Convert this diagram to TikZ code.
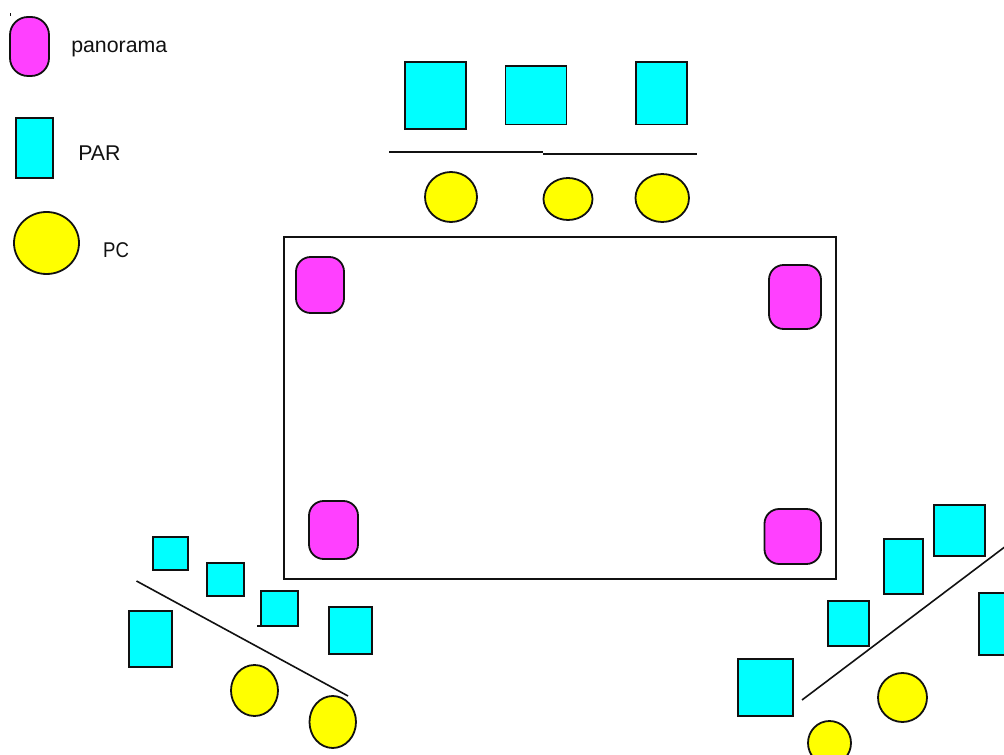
\documentclass[tikz,border=0pt]{standalone}
\usepackage{fontspec}
\setmainfont{Liberation Sans}
\definecolor{pano}{HTML}{FF40FF}
\definecolor{parc}{HTML}{00FFFF}
\definecolor{pcc}{HTML}{FFFF00}
\definecolor{ink}{HTML}{111111}
\tikzset{
  x=0.75pt,y=-0.75pt,
  shapebase/.style={draw=ink,line width=1.35pt,inner sep=0pt,outer sep=0pt},
  panobox/.style={shapebase,fill=pano,rectangle,rounded corners=11pt},
  parbox/.style={shapebase,fill=parc,rectangle},
  pcdisc/.style={shapebase,fill=pcc,ellipse},
  stage/.style={draw=ink,line width=1.5pt,fill=none,rectangle,inner sep=0pt,outer sep=0pt},
  rule/.style={draw=ink,line width=1.2pt},
  legendtext/.style={anchor=base west,inner sep=0pt,text=ink,font=\fontsize{16pt}{18pt}\selectfont},
}
\usetikzlibrary{shapes.geometric}
% \shp{style}{name}{x1}{y1}{x2}{y2}: a node given by its outer pixel extents
\newcommand{\shp}[6]{%
  \pgfmathsetmacro{\cxv}{(#3+#5)/2}%
  \pgfmathsetmacro{\cyv}{(#4+#6)/2}%
  \pgfmathsetmacro{\wdv}{(#5-#3)*0.75}%
  \pgfmathsetmacro{\htv}{(#6-#4)*0.75}%
  \node[#1,minimum width=\wdv pt,minimum height=\htv pt] (#2) at (\cxv,\cyv) {};%
}
\begin{document}
\begin{tikzpicture}
\useasboundingbox (0,0) rectangle (1004,755);
\clip (0,0) rectangle (1004,755);
% legend
\node[fill=ink,inner sep=0pt,minimum width=1pt,minimum height=2pt] (speck) at (10.5,14.5) {};
\shp{panobox,rounded corners=13.5pt}{legpano}{10}{17}{49}{76}
\shp{parbox}{legpar}{16}{118}{53}{178}
\shp{pcdisc}{legpc}{14}{212}{79}{274}
\node[legendtext] (legpanotext) at (71,53) {panorama};
\node[legendtext] (legpartext) at (78,161) {PAR};
\node[legendtext,xscale=0.87] (legpctext) at (103,257.5) {PC};
% main stage
\shp{stage}{stagebox}{284}{237}{836}{579}
\shp{panobox}{pa}{296}{257}{344}{313}
\shp{panobox}{pb}{769}{265}{821}{329}
\shp{panobox}{pc}{309}{501}{358}{559}
\shp{panobox}{pd}{764.5}{509}{821}{564}
% top group
\shp{parbox}{ta}{405}{62}{466}{129}
\shp{parbox}{tb}{505.5}{66}{566.5}{124.5}
\shp{parbox}{tc}{636}{62}{687}{124.5}
\coordinate (tl1) at (389,152);
\coordinate (tl2) at (543,152);
\coordinate (tl3) at (543,154.2);
\coordinate (tl4) at (697,154.2);
\draw[rule] (tl1) -- (tl2);
\draw[rule] (tl3) -- (tl4);
\shp{pcdisc}{td}{425}{172}{477}{222}
\shp{pcdisc}{te}{543.5}{178}{592.5}{220}
\shp{pcdisc}{tf}{635.5}{174}{689}{222}
% left group
\shp{parbox}{la}{153}{537}{188}{570}
\shp{parbox}{lb}{207}{563}{244}{596}
\shp{parbox}{lc}{261}{591}{298}{626}
\shp{parbox}{ld}{329}{607}{372}{654}
\shp{parbox}{le}{129}{611}{172}{667}
\coordinate (ls) at (257,626);
\draw[rule] (ls) -- (lc.south west);
\coordinate (ll1) at (136.5,581);
\coordinate (ll2) at (348,696);
\draw[rule] (ll1) -- (ll2);
\shp{pcdisc}{lf}{231}{665}{278}{716}
\shp{pcdisc}{lg}{309.5}{696}{356}{748}
% right group
\shp{parbox}{ra}{934}{505}{985}{556}
\shp{parbox}{rb}{884}{539}{923}{594}
\shp{parbox}{rc}{828}{601}{869}{646}
\shp{parbox}{rd}{738}{659}{793}{716}
\shp{parbox}{re}{979}{593}{1030}{655}
\coordinate (rl1) at (802,700);
\coordinate (rl2) at (1006,546);
\draw[rule] (rl1) -- (rl2);
\shp{pcdisc}{rf}{878}{673}{927}{722}
\shp{pcdisc}{rg}{808}{721}{851}{765}
\end{tikzpicture}
\end{document}
